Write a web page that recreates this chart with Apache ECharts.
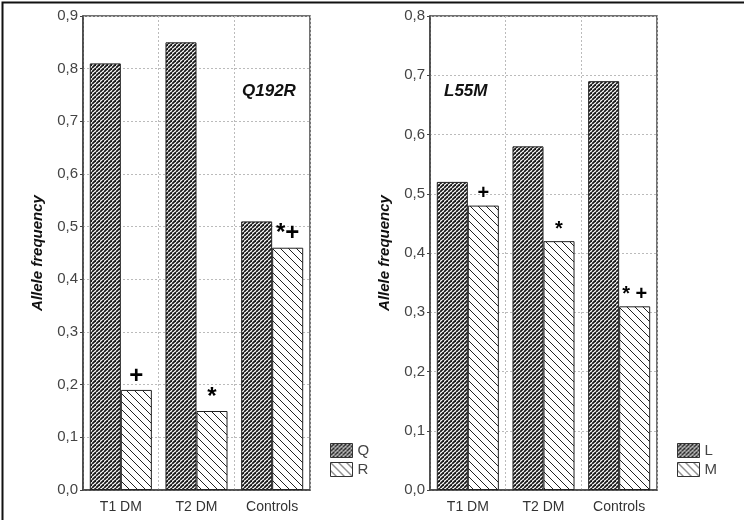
<!DOCTYPE html>
<html><head><meta charset="utf-8">
<script src="https://cdn.jsdelivr.net/npm/echarts@6/dist/echarts.min.js"></script>
<style>html,body{margin:0;padding:0;background:#fff}#c{width:744px;height:520px}</style>
</head><body><div id="c"></div>
<script>
const categories = ['T1 DM', 'T2 DM', 'Controls'];
const leftQ = [0.81, 0.85, 0.51];
const leftR = [0.19, 0.15, 0.46];
const leftMarks = ['+', '*', '*+'];
const rightL = [0.52, 0.58, 0.69];
const rightM = [0.48, 0.42, 0.31];
const rightMarks = ['+', '*', '* +'];
const leftTicks = {min: 0, max: 0.9, interval: 0.1};
const rightTicks = {min: 0, max: 0.8, interval: 0.1};

function makePattern(size, lw, dir, bg, fg) {
  const c = document.createElement('canvas');
  c.width = size; c.height = size;
  const g = c.getContext('2d');
  g.fillStyle = bg; g.fillRect(0, 0, size, size);
  g.strokeStyle = fg; g.lineWidth = lw;
  for (let k = -1; k <= 1; k++) {
    const x0 = k * size;
    g.beginPath();
    if (dir === '/') { g.moveTo(x0, size); g.lineTo(x0 + size, 0); }
    else { g.moveTo(x0, 0); g.lineTo(x0 + size, size); }
    g.stroke();
  }
  return {image: c, repeat: 'repeat'};
}
const darkPat = makePattern(4, 1.8, '/', '#ffffff', '#1a1a1a');
const lightPat = makePattern(8, 1, '\\', '#ffffff', '#222222');

const fmt = v => v.toFixed(1).replace('.', ',');
const chart = echarts.init(document.getElementById('c'));

function yAxis(idx, t) {
  return {
    type: 'value', gridIndex: idx, min: t.min, max: t.max, interval: t.interval,
    name: 'Allele frequency', nameLocation: 'middle', nameGap: 38,
    nameTextStyle: {fontFamily: 'Arial', fontWeight: 'bold', fontStyle: 'italic', fontSize: 15, color: '#111'},
    axisLine: {show: true, lineStyle: {color: '#444', width: 1.5}},
    axisTick: {show: true, length: 3, lineStyle: {color: '#444'}},
    axisLabel: {formatter: fmt, fontFamily: 'Arial', fontSize: 15, color: '#444', margin: 5},
    splitLine: {show: true, lineStyle: {color: '#bbb', type: [2, 2]}}
  };
}
function xAxis(idx) {
  return {
    type: 'category', gridIndex: idx, data: categories,
    axisLine: {show: true, lineStyle: {color: '#444', width: 1.5}},
    axisTick: {show: false},
    axisLabel: {fontFamily: 'Arial', fontSize: 14, color: '#333', margin: 10},
    splitLine: {show: true, lineStyle: {color: '#bbb', type: [2, 2]}}
  };
}
function markLabel(marks, size) {
  return {
    show: true, position: 'top', distance: 2,
    formatter: p => marks[p.dataIndex],
    fontFamily: 'Arial', fontWeight: 'bold', fontSize: size, color: '#000'
  };
}
const barBase = {type: 'bar', barCategoryGap: '18%', barGap: '0%'};

chart.setOption({
  animation: false,
  backgroundColor: '#fff',
  grid: [
    {left: 83, right: 434, top: 16, bottom: 30, show: true, borderColor: '#444', borderWidth: 1.5, backgroundColor: 'transparent'},
    {left: 430, right: 87, top: 16, bottom: 30, show: true, borderColor: '#444', borderWidth: 1.5, backgroundColor: 'transparent'}
  ],
  xAxis: [xAxis(0), xAxis(1)],
  yAxis: [yAxis(0, leftTicks), yAxis(1, rightTicks)],
  legend: [
    {data: ['Q', 'R'], orient: 'vertical', left: 325, top: 438, itemWidth: 22, itemHeight: 14, itemGap: 4,
     icon: 'rect', textStyle: {fontFamily: 'Arial', fontSize: 15, color: '#444'}, itemStyle: {borderColor: '#333', borderWidth: 1}},
    {data: ['L', 'M'], orient: 'vertical', left: 672, top: 438, itemWidth: 22, itemHeight: 14, itemGap: 4,
     icon: 'rect', textStyle: {fontFamily: 'Arial', fontSize: 15, color: '#444'}, itemStyle: {borderColor: '#333', borderWidth: 1}}
  ],
  graphic: [
    {type: 'rect', left: 0, top: 0, shape: {width: 743, height: 519}, style: {fill: 'none', stroke: '#111', lineWidth: 2}, silent: true},
    {type: 'text', left: 242, top: 83, style: {text: 'Q192R', font: 'italic bold 17px Arial', fill: '#111'}},
    {type: 'text', left: 444, top: 83, style: {text: 'L55M', font: 'italic bold 17px Arial', fill: '#111'}}
  ],
  series: [
    Object.assign({}, barBase, {name: 'Q', xAxisIndex: 0, yAxisIndex: 0, data: leftQ,
      itemStyle: {color: darkPat, borderColor: '#222', borderWidth: 1}}),
    Object.assign({}, barBase, {name: 'R', xAxisIndex: 0, yAxisIndex: 0, data: leftR,
      itemStyle: {color: lightPat, borderColor: '#222', borderWidth: 1}, label: markLabel(leftMarks, 24)}),
    Object.assign({}, barBase, {name: 'L', xAxisIndex: 1, yAxisIndex: 1, data: rightL,
      itemStyle: {color: darkPat, borderColor: '#222', borderWidth: 1}}),
    Object.assign({}, barBase, {name: 'M', xAxisIndex: 1, yAxisIndex: 1, data: rightM,
      itemStyle: {color: lightPat, borderColor: '#222', borderWidth: 1}, label: markLabel(rightMarks, 20)})
  ]
});
</script></body></html>
